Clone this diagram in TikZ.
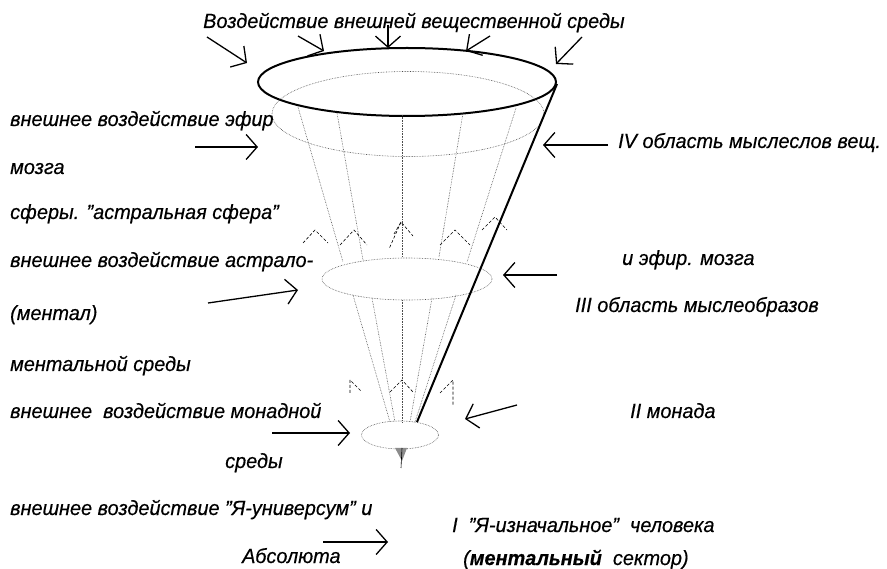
\documentclass[tikz,border=0pt]{standalone}
\usepackage{fontspec}
\setmainfont{Liberation Sans}[FakeStretch=0.97,FakeBold=0.4]
\usepackage{tikz}
\usetikzlibrary{arrows.meta,shapes.geometric}
\tikzset{
  nadp/.style={font=\fontsize{20.5}{24}\selectfont\itshape, inner sep=0pt, anchor=base west},
  strela/.style={-{Straight Barb[length=11pt,width=25pt]}, line width=1.3pt},
  kontur/.style={ellipse, draw, inner sep=0pt},
  tochki/.style={densely dotted, line width=0.6pt, draw=black!70},
  shtrih/.style={dashed, dash pattern=on 3pt off 2pt, line width=0.6pt},
}
\begin{document}
\begin{tikzpicture}[x=1pt,y=-1pt]
  \useasboundingbox (0,0) rectangle (887,569);
  % voronka
  \node[kontur, line width=2pt, minimum width=298pt, minimum height=68pt] (verh) at (407,82) {};
  \node[kontur, tochki, minimum width=272pt, minimum height=85pt] (efir) at (408,114) {};
  \node[kontur, tochki, minimum width=170pt, minimum height=42pt] (astral) at (407,279) {};
  \node[kontur, tochki, minimum width=77pt, minimum height=28pt] (monada) at (400,435) {};
  \foreach \xa/\ya/\xb/\yb in {298/107/343/262, 337/113/363/260, 402/115/402/257, 463/113/439/257, 516/108/467/262,
                                353/295/390/422, 372/298/395/422, 402/300/402/422, 432/298/410/422, 456/295/415/422}
    \draw[tochki] (\xa,\ya) -- (\xb,\yb);
  \draw[line width=2pt] (557,84) -- (417,422);
  \fill[black!45] (395,448) -- (407,448) -- (402,461) -- cycle;
  \draw[line width=0.6pt] (402,448) -- (401,468);
  % strelki vverh
  \foreach \pa/\pb/\pc in {{303,243}/{315,230}/{328,243}, {340,245}/{354,230}/{367,245}, {394,234}/{401,222}/{413,236},
                           {440,245}/{455,230}/{470,245}, {482,230}/{495,217}/{507,230},
                           {350,393}/{350,380}/{362,392}, {390,392}/{402,380}/{413,392}, {440,393}/{453,380}/{453,405}}
    \draw[shtrih] (\pa) -- (\pb) -- (\pc);
  \draw[shtrih] (401,222) -- (389,249);
  % vneshnie vozdejstvija
  \foreach \a/\b in {{207,37}/{247,63}, {298,36}/{324,51}, {388,25}/{388,48}, {490,36}/{466,51}, {582,37}/{556,64},
                     {195,147}/{258,147}, {208,303}/{298,290}, {272,433}/{350,433}, {323,542}/{388,542},
                     {608,145}/{543,145}, {557,275}/{503,275}, {517,405}/{465,419}}
    \draw[strela] (\a) -- (\b);
  % nadpisi
  \node[nadp] (t0) at (203,28) {Воздействие внешней вещественной среды};
  \node[nadp] (l1) at (10,126) {внешнее воздействие эфир};
  \node[nadp] (l2) at (10,174) {мозга};
  \node[nadp] (l3) at (10,219) {сферы. ”астральная сфера”};
  \node[nadp] (l4) at (10,267) {внешнее воздействие астрало-};
  \node[nadp] (l5) at (10,320) {(ментал)};
  \node[nadp] (l6) at (10,371) {ментальной среды};
  \node[nadp] (l7) at (10,418) {внешнее\ \ воздействие монадной};
  \node[nadp] (l8) at (225,468) {среды};
  \node[nadp] (l9) at (10,515) {внешнее воздействие ”Я-универсум” и};
  \node[nadp] (l10) at (242,563) {Абсолюта};
  \node[nadp] (r1) at (618,148) {IV область мыслеслов вещ.};
  \node[nadp] (r2) at (622,265) {и эфир. мозга};
  \node[nadp] (r3) at (575,312) {III область мыслеобразов};
  \node[nadp] (r4) at (630,418) {II монада};
  \node[nadp] (r5) at (452,532) {I\ \ ”Я-изначальное”\ \ человека};
  \node[nadp] (r6) at (463,565) {(\textbf{ментальный}\ \ сектор)};
\end{tikzpicture}
\end{document}
